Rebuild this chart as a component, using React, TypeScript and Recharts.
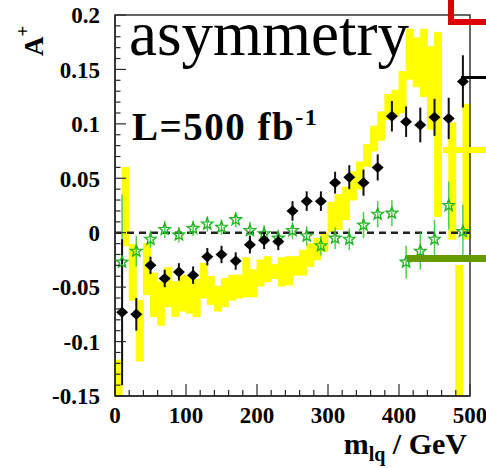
import React from 'react';
import {
  ComposedChart,
  XAxis,
  YAxis,
  Scatter,
  ErrorBar,
  ReferenceLine,
  ReferenceArea,
} from 'recharts';

// ---- yellow band: 10 GeV bins (centre, low edge, high edge) ----
const bandCentres = [
  5, 15, 25, 35, 45, 55, 65, 75, 85, 95,
  105, 115, 125, 135, 145, 155, 165, 175, 185, 195,
  205, 215, 225, 235, 245, 255, 265, 275, 285, 295,
  305, 315, 325, 335, 345, 355, 365, 375, 385, 395,
  405, 415, 425, 435, 445, 455, 465, 475, 485, 495,
];
const bandHalfWidth = 5;
const bandLow: (number | null)[] = [
  -0.15, -0.012, -0.062, -0.118, -0.057, -0.077, -0.085, -0.068, -0.077, -0.072,
  -0.074, -0.077, -0.06, -0.066, -0.072, -0.068, -0.062, -0.06, -0.059, -0.059,
  -0.049, -0.045, -0.042, -0.049, -0.048, -0.039, -0.039, -0.031, -0.025, -0.017,
  0.001, 0.003, 0.012, 0.03, 0.04, 0.061, 0.075, 0.085, 0.104, 0.107,
  0.11, 0.141, 0.134, 0.125, 0.095, 0.015, null, -0.006, -0.15, -0.006,
];
const bandHigh: (number | null)[] = [
  -0.117, 0.06, -0.011, -0.062, -0.01, -0.037, -0.045, -0.032, -0.045, -0.039,
  -0.04, -0.043, -0.028, -0.04, -0.049, -0.042, -0.039, -0.039, -0.023, -0.034,
  -0.025, -0.022, -0.029, -0.023, -0.022, -0.022, -0.016, -0.01, -0.005, 0.0,
  0.028, 0.035, 0.042, 0.056, 0.065, 0.081, 0.098, 0.111, 0.127, 0.131,
  0.148, 0.187, 0.179, 0.187, 0.171, 0.184, null, 0.101, -0.03, 0.118,
];

// ---- measured points (20 GeV bins) ----
const pointMass = [
  10, 30, 50, 70, 90, 110, 130, 150, 170, 190, 210, 230, 250,
  270, 290, 310, 330, 350, 370, 390, 410, 430, 450, 470, 490,
];
const blackAsym = [
  -0.073, -0.075, -0.03, -0.042, -0.036, -0.039, -0.022, -0.02, -0.026, -0.011, -0.007, -0.008, 0.02,
  0.029, 0.029, 0.046, 0.051, 0.046, 0.06, 0.107, 0.102, 0.099, 0.106, 0.105, 0.139,
];
const blackErr = [
  0.067, 0.015, 0.008, 0.008, 0.008, 0.008, 0.008, 0.008, 0.008, 0.008, 0.008, 0.008, 0.009,
  0.009, 0.009, 0.01, 0.011, 0.012, 0.012, 0.014, 0.014, 0.016, 0.017, 0.019, 0.024,
];
const greenAsym = [
  -0.027, -0.017, -0.006, 0.003, -0.002, 0.004, 0.008, 0.005, 0.012, 0.002, -0.001, -0.005, 0.002,
  -0.003, -0.012, -0.005, -0.006, 0.007, 0.017, 0.018, -0.027, -0.017, -0.006, 0.025, 0.001,
];
const greenErr = [
  0.062, 0.014, 0.008, 0.008, 0.007, 0.007, 0.007, 0.007, 0.007, 0.008, 0.008, 0.008, 0.008,
  0.009, 0.009, 0.01, 0.01, 0.012, 0.012, 0.012, 0.015, 0.017, 0.018, 0.022, 0.025,
];

// ---- axis ticks ----
const yMajorTicks = [-0.15, -0.1, -0.05, 0, 0.05, 0.1, 0.15, 0.2];
const yTickLabels = ['-0.15', '-0.1', '-0.05', '0', '0.05', '0.1', '0.15', '0.2'];
const xMajorTicks = [0, 100, 200, 300, 400, 500];
const xTickLabels = ['0', '100', '200', '300', '400', '500'];

const blackData = pointMass.map((m, i) => ({ m, a: blackAsym[i], e: blackErr[i] }));
const greenData = pointMass.map((m, i) => ({ m, a: greenAsym[i], e: greenErr[i] }));

const yTicksAll: number[] = [];
for (let k = -15; k <= 20; k++) yTicksAll.push(k / 100);
const xTicksAll: number[] = [];
for (let k = 0; k <= 25; k++) xTicksAll.push(k * 20);

const FONT = '"Liberation Serif", "Times New Roman", Times, serif';
const AX = '#2a2a2a';

const YTick = (props: any) => {
  const { x, y, payload } = props;
  const v = payload.value;
  const idx = yMajorTicks.findIndex((t) => Math.abs(t - v) < 1e-9);
  const major = idx >= 0;
  return (
    <g>
      <line x1={x} x2={x + (major ? 11 : 5.5)} y1={y} y2={y} stroke={AX} strokeWidth={1.2} />
      {major && (
        <text
          x={x - 15}
          y={y}
          dy="0.36em"
          textAnchor="end"
          style={{ fontFamily: FONT, fontWeight: 'bold', fontSize: 23 }}
          fill="#000"
        >
          {yTickLabels[idx]}
        </text>
      )}
    </g>
  );
};

const XTick = (props: any) => {
  const { x, y, payload } = props;
  const v = payload.value;
  const idx = xMajorTicks.indexOf(v);
  const major = idx >= 0;
  return (
    <g>
      <line x1={x} x2={x} y1={y} y2={y - (major ? 12 : 6)} stroke={AX} strokeWidth={1.2} />
      {major && (
        <text
          x={x}
          y={y + 27}
          textAnchor="middle"
          style={{ fontFamily: FONT, fontWeight: 'bold', fontSize: 23 }}
          fill="#000"
        >
          {xTickLabels[idx]}
        </text>
      )}
    </g>
  );
};

const Diamond = (p: any) => {
  const { cx, cy } = p;
  if (cx == null || cy == null) return <g />;
  return (
    <polygon
      points={`${cx - 6},${cy} ${cx},${cy - 5.5} ${cx + 6},${cy} ${cx},${cy + 5.5}`}
      fill="#000"
    />
  );
};

const Star = (p: any) => {
  const { cx, cy } = p;
  if (cx == null || cy == null) return <g />;
  const R = 6;
  const r = 2.6;
  const pts: string[] = [];
  for (let i = 0; i < 10; i++) {
    const ang = -Math.PI / 2 + (i * Math.PI) / 5;
    const rad = i % 2 === 0 ? R : r;
    pts.push(`${(cx + rad * Math.cos(ang)).toFixed(2)},${(cy + rad * Math.sin(ang)).toFixed(2)}`);
  }
  return <polygon points={pts.join(' ')} fill="none" stroke="#22b422" strokeWidth={1.4} />;
};

export default function App() {
  return (
    <div style={{ position: 'absolute', left: 0, top: 0, width: 486, height: 468, background: '#fff', overflow: 'hidden' }}>
      <ComposedChart
        width={486}
        height={468}
        data={blackData}
        margin={{ top: 15, right: 16, left: 0, bottom: 0 }}
      >
        <XAxis
          dataKey="m"
          type="number"
          domain={[0, 500]}
          ticks={xTicksAll}
          interval={0}
          tickSize={0}
          tickMargin={0}
          tick={<XTick />}
          axisLine={{ stroke: AX, strokeWidth: 1.5 }}
          tickLine={false}
          height={72}
          allowDataOverflow
        />
        <YAxis
          type="number"
          domain={[-0.15, 0.2]}
          ticks={yTicksAll}
          interval={0}
          tickSize={0}
          tickMargin={0}
          tick={<YTick />}
          axisLine={{ stroke: AX, strokeWidth: 1.5 }}
          tickLine={false}
          width={115}
          allowDataOverflow
        />
        {bandCentres.map((c, i) =>
          bandLow[i] === null || bandHigh[i] === null ? null : (
            <ReferenceArea
              key={`band-${c}`}
              x1={c - bandHalfWidth}
              x2={c + bandHalfWidth}
              y1={bandLow[i] as number}
              y2={bandHigh[i] as number}
              fill="#ffff00"
              fillOpacity={1}
              stroke="#ffff00"
              strokeWidth={0.8}
              ifOverflow="visible"
            />
          )
        )}
        <ReferenceLine y={0} stroke="#222" strokeWidth={2.5} strokeDasharray="7 5" />
        <Scatter data={greenData} dataKey="a" shape={<Star />} isAnimationActive={false}>
          <ErrorBar dataKey="e" direction="y" width={0} stroke="#4fcf4f" strokeWidth={1.5} />
        </Scatter>
        <Scatter data={blackData} dataKey="a" shape={<Diamond />} isAnimationActive={false}>
          <ErrorBar dataKey="e" direction="y" width={0} stroke="#111" strokeWidth={2} />
        </Scatter>
        <ReferenceArea
          x1={0}
          x2={500}
          y1={-0.15}
          y2={0.2}
          fill="none"
          fillOpacity={0}
          stroke="#333"
          strokeWidth={1.5}
          ifOverflow="visible"
        />
      </ComposedChart>
      <svg
        width={486}
        height={468}
        style={{ position: 'absolute', left: 0, top: 0, pointerEvents: 'none' }}
      >
        {/* fragments of a neighbouring legend */}
        <rect x={448} y={0} width={6} height={25} fill="#dd0000" />
        <rect x={448} y={19} width={38} height={6} fill="#dd0000" />
        <rect x={461} y={76} width={25} height={3} fill="#000" />
        <rect x={443} y={147} width={43} height={6} fill="#ffff00" />
        <rect x={407} y={255} width={79} height={7} fill="#669900" />
        <text x={129} y={55} style={{ fontFamily: FONT, fontSize: 63 }} fill="#000">
          asymmetry
        </text>
        <text
          x={132}
          y={140}
          style={{ fontFamily: FONT, fontWeight: 'bold', fontSize: 39, letterSpacing: 1.5 }}
          fill="#000"
        >
          L=500 fb
          <tspan fontSize={24} dy={-15}>-1</tspan>
        </text>
        <text
          transform="translate(43,56) rotate(-90)"
          style={{ fontFamily: FONT, fontWeight: 'bold', fontSize: 27 }}
          fill="#000"
        >
          A<tspan fontSize={19} dy={-14}>+</tspan>
        </text>
        <text
          x={467}
          y={454}
          textAnchor="end"
          style={{ fontFamily: FONT, fontWeight: 'bold', fontSize: 30 }}
          fill="#000"
        >
          m<tspan fontSize={20} dy={7}>lq</tspan>
          <tspan dy={-7}> / GeV</tspan>
        </text>
      </svg>
    </div>
  );
}
